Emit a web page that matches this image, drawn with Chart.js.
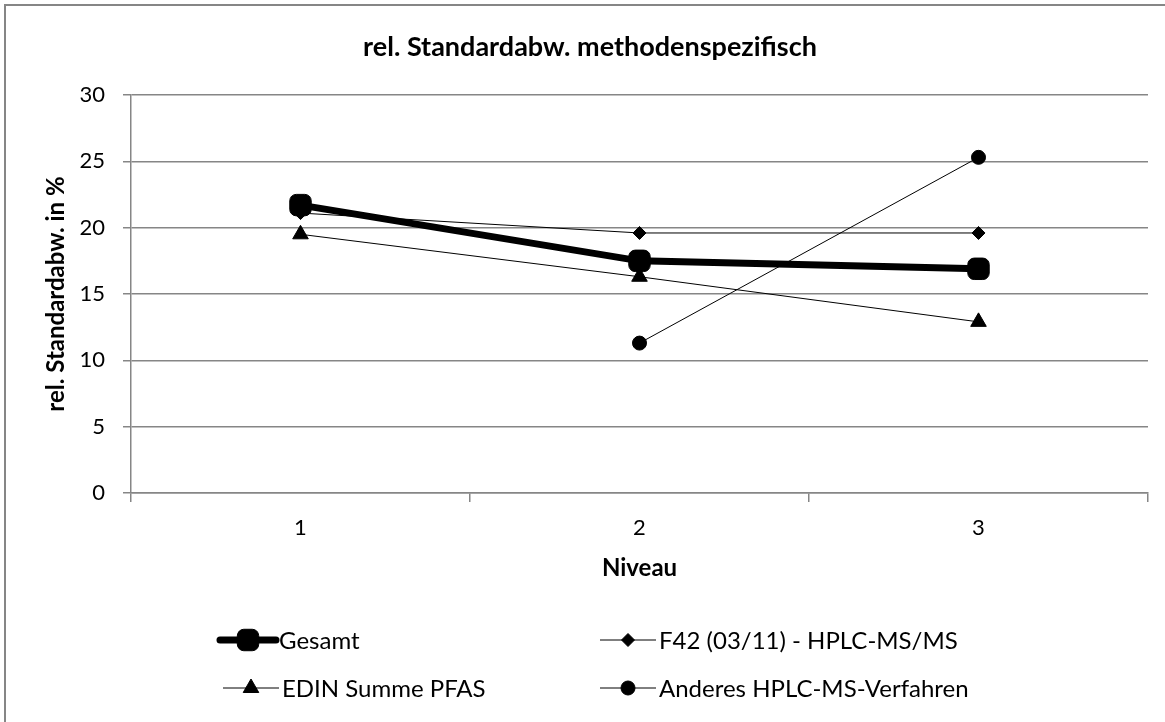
<!DOCTYPE html>
<html>
<head>
<meta charset="utf-8">
<script src="https://cdn.jsdelivr.net/npm/chart.js@4/dist/chart.umd.min.js"></script>
<style>
    html, body { margin: 0; padding: 0; background: #fff; }
    #wrap { width: 1165px; height: 722px; position: relative; }
</style>
</head>
<body>
<div id="wrap"><canvas id="chart"></canvas></div>
<script>
// values
const niveaus = ['1', '2', '3'];
const gesamt = [21.7, 17.5, 16.9];
const f42 = [21.1, 19.6, 19.6];
const edin = [19.5, 16.3, 12.9];
const anderes = [null, 11.3, 25.3];
const seriesNames = ['Gesamt', 'F42 (03/11) - HPLC-MS/MS', 'EDIN Summe PFAS', 'Anderes HPLC-MS-Verfahren'];
const yTicks = [0, 5, 10, 15, 20, 25, 30];

const chartTitle = 'rel. Standardabw. methodenspezifisch';
const yTitle = 'rel. Standardabw. in %';
const xTitle = 'Niveau';

const FONT = 'Lato, "Open Sans", sans-serif';
const GRID = '#868686';

function series(label, data, style, radius, width) {
    return {
        label: label,
        data: data,
        borderColor: '#000',
        backgroundColor: '#000',
        borderWidth: width,
        pointStyle: style,
        pointRadius: radius,
        pointHoverRadius: radius,
        pointBackgroundColor: '#000',
        pointBorderColor: '#000',
        pointBorderWidth: 1,
        tension: 0,
        fill: false
    };
}

const datasets = [
    series(seriesNames[0], gesamt, 'rectRounded', 12.5, 7),
    series(seriesNames[1], f42, 'rectRot', 6.5, 1),
    series(seriesNames[2], edin, 'triangle', 9, 1),
    series(seriesNames[3], anderes, 'circle', 7, 1)
];

// legend slots (two columns, two rows)
const legendSlots = [
    { x: 220, y: 640 },
    { x: 600, y: 640 },
    { x: 223, y: 688 },
    { x: 600, y: 688 }
];

function drawMarker(ctx, ds, x, y) {
    const opts = {
        pointStyle: ds.pointStyle,
        radius: ds.pointRadius,
        borderWidth: ds.pointBorderWidth,
        rotation: 0
    };
    ctx.fillStyle = '#000';
    ctx.strokeStyle = '#000';
    ctx.lineWidth = ds.pointBorderWidth;
    Chart.helpers.drawPoint(ctx, opts, x, y);
}

const decorations = {
    id: 'decorations',
    beforeDraw(chart) {
        const ctx = chart.ctx;
        ctx.save();
        ctx.fillStyle = '#fff';
        ctx.fillRect(0, 0, chart.width, chart.height);
        ctx.strokeStyle = GRID;
        ctx.lineWidth = 2;
        ctx.strokeRect(5, 5, chart.width + 10, chart.height + 10);
        ctx.restore();
    },
    afterDraw(chart) {
        const ctx = chart.ctx;
        const area = chart.chartArea;
        ctx.save();
        ctx.fillStyle = '#000';
        ctx.textAlign = 'center';
        ctx.textBaseline = 'middle';

        ctx.font = 'bold 27px ' + FONT;
        ctx.fillText(chartTitle, 590, 47);

        ctx.font = 'bold 24px ' + FONT;
        ctx.fillText(xTitle, (area.left + area.right) / 2, 568);

        ctx.save();
        ctx.translate(56, (area.top + area.bottom) / 2);
        ctx.rotate(-Math.PI / 2);
        ctx.fillText(yTitle, 0, 0);
        ctx.restore();

        // legend
        ctx.textAlign = 'left';
        ctx.font = '24px ' + FONT;
        chart.data.datasets.forEach((ds, i) => {
            const s = legendSlots[i];
            const len = 56;
            ctx.strokeStyle = '#000';
            ctx.lineWidth = ds.borderWidth;
            ctx.lineCap = ds.borderWidth > 2 ? 'round' : 'butt';
            ctx.beginPath();
            ctx.moveTo(s.x, s.y);
            ctx.lineTo(s.x + len, s.y);
            ctx.stroke();
            drawMarker(ctx, ds, s.x + len / 2, s.y);
            ctx.fillStyle = '#000';
            ctx.fillText(ds.label, s.x + len + 3, s.y + 1);
        });
        ctx.restore();
    }
};

const canvas = document.getElementById('chart');

const chart = new Chart(canvas, {
    type: 'line',
    data: {
        labels: niveaus,
        datasets: datasets
    },
    options: {
        responsive: true,
        maintainAspectRatio: false,
        animation: false,
        layout: {
            padding: { top: 95, right: 17, left: 0, bottom: 0 }
        },
        plugins: {
            legend: { display: false },
            title: { display: false },
            tooltip: { enabled: false }
        },
        scales: {
            x: {
                type: 'category',
                offset: true,
                afterFit: (scale) => { scale.height = 229; },
                grid: {
                    offset: true,
                    drawOnChartArea: false,
                    drawTicks: true,
                    tickLength: 9,
                    color: GRID,
                    lineWidth: 1.5
                },
                border: { display: true, color: GRID, width: 1.5 },
                ticks: {
                    color: '#000',
                    padding: 13,
                    font: { family: FONT, size: 22 }
                }
            },
            y: {
                min: yTicks[0],
                max: yTicks[yTicks.length - 1],
                afterFit: (scale) => { scale.width = 131; },
                afterBuildTicks: (scale) => {
                    scale.ticks = yTicks.map(v => ({ value: v }));
                },
                grid: {
                    color: GRID,
                    lineWidth: 1.5,
                    drawTicks: true,
                    tickLength: 8
                },
                border: { display: true, color: GRID, width: 1.5 },
                ticks: {
                    color: '#000',
                    padding: 18,
                    font: { family: FONT, size: 22 }
                }
            }
        }
    },
    plugins: [decorations]
});
</script>
</body>
</html>
